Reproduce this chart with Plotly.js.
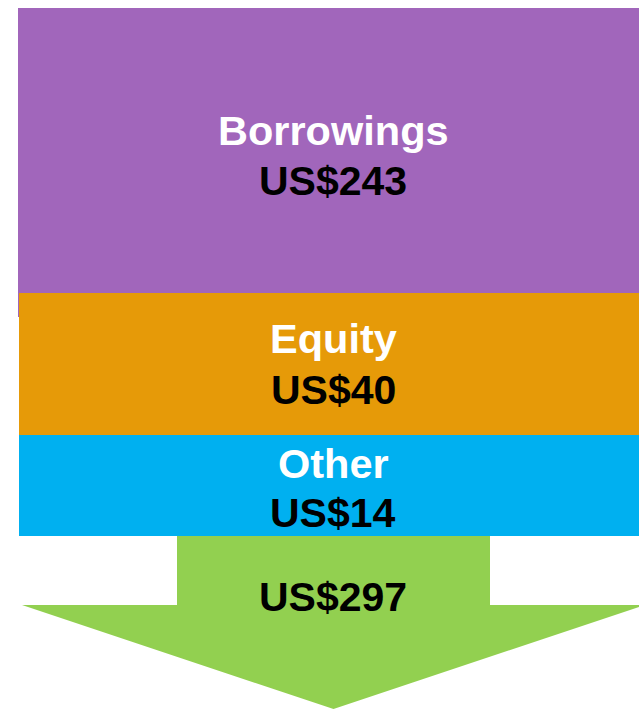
<!DOCTYPE html>
<html>
<head>
<meta charset="utf-8">
<script src="https://cdn.plot.ly/plotly-3.0.1.min.js"></script>
<style>
  html, body { margin: 0; padding: 0; background: #ffffff; }
  #chart { width: 639px; height: 709px; }
</style>
</head>
<body>
<div id="chart"></div>
<script>
// ---- data ----
const categories = ['Borrowings', 'Equity', 'Other'];
const values = [243, 40, 14];
const totalValue = [297];
const currencyPrefix = 'US$';

// ---- style / geometry (pixels in a 639x709 canvas) ----
const colors = ['#A166BB', '#E69A08', '#00B0F0'];
const arrowColor = '#92D050';
const blockTops = [8, 293, 435];
const blockHeights = [309, 142, 101];
const blockLefts = [18, 19, 19];
const blockRight = 660;
const labelY = [130.5, 338, 463.5];
const valueY = [181, 390, 513];
const textX = 333;
const arrow = { shaftLeft: 177, shaftRight: 490, shaftTop: 536, headTop: 605, headLeft: 22, apexX: 333.5, apexY: 709 };
const totalY = 597;
const fontFamily = '"Liberation Sans", Arial, sans-serif';
const labelFontSize = 41.5;
const valueFontSize = 41;

const traces = categories.map((c, i) => ({
  type: 'bar',
  orientation: 'v',
  x: [(blockLefts[i] + blockRight) / 2],
  width: [blockRight - blockLefts[i]],
  base: [blockTops[i]],
  y: [blockHeights[i]],
  marker: { color: colors[i], line: { width: 0 } },
  name: c,
  hoverinfo: 'skip',
  showlegend: false
}));

const headRight = 2 * arrow.apexX - arrow.headLeft;
traces.push({
  type: 'scatter',
  mode: 'lines',
  x: [arrow.shaftLeft, arrow.shaftRight, arrow.shaftRight, headRight, arrow.apexX, arrow.headLeft, arrow.shaftLeft, arrow.shaftLeft],
  y: [arrow.shaftTop, arrow.shaftTop, arrow.headTop, arrow.headTop, arrow.apexY, arrow.headTop, arrow.headTop, arrow.shaftTop],
  fill: 'toself',
  fillcolor: arrowColor,
  line: { width: 0, color: arrowColor },
  hoverinfo: 'skip',
  showlegend: false,
  cliponaxis: true
});

const annotations = [];
categories.forEach((c, i) => {
  annotations.push({
    x: textX, y: labelY[i], xref: 'x', yref: 'y', text: c, showarrow: false,
    xanchor: 'center', yanchor: 'middle',
    font: { family: fontFamily, size: labelFontSize, color: '#ffffff', weight: 'bold' }
  });
  annotations.push({
    x: textX, y: valueY[i], xref: 'x', yref: 'y', text: currencyPrefix + values[i], showarrow: false,
    xanchor: 'center', yanchor: 'middle',
    font: { family: fontFamily, size: valueFontSize, color: '#000000', weight: 'bold' }
  });
});
annotations.push({
  x: textX, y: totalY, xref: 'x', yref: 'y', text: currencyPrefix + totalValue[0], showarrow: false,
  xanchor: 'center', yanchor: 'middle',
  font: { family: fontFamily, size: valueFontSize, color: '#000000', weight: 'bold' }
});

const layout = {
  width: 639, height: 709,
  margin: { l: 0, r: 0, t: 0, b: 0, pad: 0 },
  paper_bgcolor: '#ffffff', plot_bgcolor: '#ffffff',
  barmode: 'overlay',
  xaxis: { range: [0, 639], visible: false, fixedrange: true },
  yaxis: { range: [709, 0], visible: false, fixedrange: true },
  annotations: annotations,
  showlegend: false
};

Plotly.newPlot('chart', traces, layout, { staticPlot: true, displayModeBar: false });
</script>
</body>
</html>
